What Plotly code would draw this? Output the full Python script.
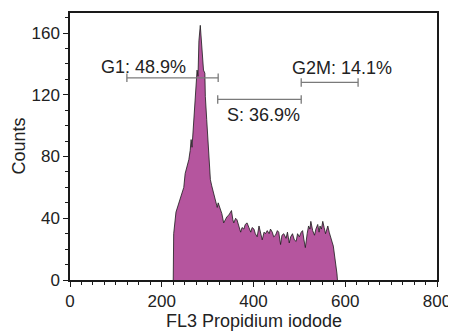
import plotly.graph_objects as go

# Histogram outline (FL3 channel, counts)
fl3 = [225, 226, 231, 234, 237, 240, 244, 248, 251, 255, 259, 262, 264, 266, 270, 273, 277, 279,
       281, 284, 286, 289, 291, 294, 295, 298, 301, 304, 306, 309, 313, 317, 321, 323, 328, 331,
       335, 339, 342, 346, 349, 352, 355, 357, 361, 364, 368, 372, 375, 379, 382, 386, 390, 394,
       397, 401, 404, 408, 412, 415, 419, 423, 426, 430, 434, 437, 441, 444, 448, 452, 455, 459,
       462, 466, 471, 474, 478, 481, 485, 489, 493, 496, 500, 504, 507, 510, 513, 517, 520, 523,
       525, 529, 533, 536, 540, 543, 545, 548, 551, 554, 557, 560, 562, 565, 569, 572, 574, 577,
       579, 582, 583]
counts = [0, 30, 44, 47, 50, 52, 56, 60, 69, 73, 78, 84, 91, 86, 104, 119, 136, 132,
          155, 165, 158, 147, 136, 134, 119, 104, 88, 76, 65, 61, 56, 52, 47, 50, 45, 43,
          37, 40, 41, 42, 44, 45, 39, 37, 40, 39, 35, 31, 34, 33, 36, 37, 34, 31,
          34, 33, 30, 28, 35, 30, 26, 31, 30, 32, 30, 33, 31, 28, 29, 32, 31, 23,
          29, 30, 27, 31, 24, 28, 30, 26, 25, 30, 28, 31, 32, 26, 21, 30, 35, 33,
          38, 32, 29, 33, 36, 31, 35, 33, 38, 34, 30, 33, 35, 31, 26, 24, 22, 16,
          13, 4, 0]

# Gates
gate_names = ["G1", "S", "G2M"]
gate_pcts = [48.9, 36.9, 14.1]
gate_start = [124, 322, 504]
gate_end = [323, 504, 628]
gate_level = [131, 117, 128]

x_ticks = [0, 200, 400, 600, 800]
y_ticks = [0, 40, 80, 120, 160]

FONT = "Liberation Sans, Arial, sans-serif"
TXT = "#222222"
GATE = "#7a7a7a"

fig = go.Figure()
fig.add_trace(go.Scatter(
    x=fl3, y=counts, mode="lines", fill="tozeroy",
    fillcolor="#B5559E", line=dict(color="#1a1a1a", width=0.8),
    hoverinfo="skip", showlegend=False))

# label placement (pixel offsets relative to bar centre)
label_dx = [-29, 4, 12]
label_dy = [11, -16, 14]

for name, pct, a, b, lv, dx, dy in zip(gate_names, gate_pcts, gate_start, gate_end,
                                       gate_level, label_dx, label_dy):
    fig.add_trace(go.Scatter(
        x=[a, b], y=[lv, lv], mode="lines+markers",
        line=dict(color=GATE, width=1.3),
        marker=dict(symbol="line-ns", size=6, line=dict(color=GATE, width=1.3)),
        hoverinfo="skip", showlegend=False))
    fig.add_annotation(x=(a + b) / 2, y=lv, xref="x", yref="y",
                       text=f"{name}: {pct}%", showarrow=False,
                       xshift=dx, yshift=dy, yanchor="middle", xanchor="center",
                       font=dict(family=FONT, size=18, color=TXT))

fig.add_annotation(xref="paper", yref="paper", x=0, y=0.5, xshift=-52,
                   xanchor="center", yanchor="middle",
                   text="Counts", textangle=-90, showarrow=False,
                   font=dict(family=FONT, size=18, color=TXT))
fig.add_annotation(xref="paper", yref="paper", x=0.5, y=0, yshift=-41,
                   xanchor="center", yanchor="middle",
                   text="FL3 Propidium iodode", showarrow=False,
                   font=dict(family=FONT, size=18, color=TXT))

axis_common = dict(showline=True, linecolor="#1a1a1a", linewidth=1.5, mirror=True,
                   ticks="outside", ticklen=5, tickwidth=1, tickcolor="#1a1a1a",
                   showgrid=False, zeroline=False, automargin=False,
                   tickfont=dict(family=FONT, size=17, color=TXT))

fig.update_xaxes(range=[0, 800], tickvals=x_ticks, ticktext=[str(v) for v in x_ticks],
                 minor=dict(dtick=25, ticks="outside", ticklen=3, tickcolor="#1a1a1a",
                            showgrid=False),
                 **axis_common)
fig.update_yaxes(range=[0, 173], tickvals=y_ticks, ticktext=[str(v) for v in y_ticks],
                 minor=dict(dtick=10, ticks="outside", ticklen=3, tickcolor="#1a1a1a",
                            showgrid=False),
                 **axis_common)

# the page body adds an 8px offset, so the figure is 8px smaller
fig.update_layout(width=448, height=323, margin=dict(l=62, r=19, t=5, b=51),
                  plot_bgcolor="white", paper_bgcolor="white",
                  font=dict(family=FONT, color=TXT))

fig.write_html("out.html")
